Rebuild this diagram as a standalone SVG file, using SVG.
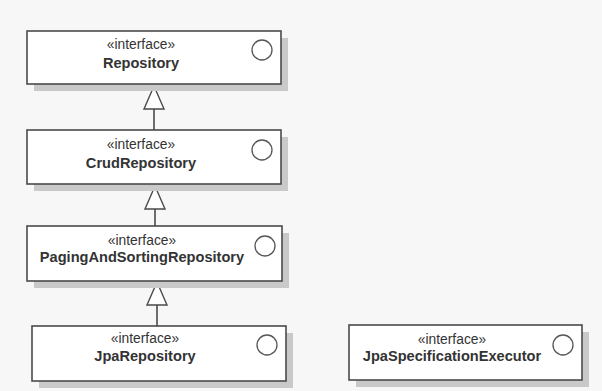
<svg xmlns="http://www.w3.org/2000/svg" width="602" height="391" viewBox="0 0 602 391">
<style>
.bg{fill:#f7f7f7}
.shadow{fill:#c9c9c9}
.box{fill:#ffffff;stroke:#4a4a4a;stroke-width:1.6}
.icon{fill:#ffffff;stroke:#555555;stroke-width:1.3}
.st{font-family:"Liberation Sans",Arial,sans-serif;font-size:13.8px;fill:#333333;text-anchor:middle}
.nm{font-family:"Liberation Sans",Arial,sans-serif;font-size:14.6px;font-weight:bold;fill:#333333;text-anchor:middle}
.edge{stroke:#4a4a4a;stroke-width:1.6;fill:none}
.head{fill:#ffffff;stroke:#4a4a4a;stroke-width:1.4}
</style>
<rect class="bg" x="0" y="0" width="602" height="391"/>
<g id="connectors">
<line class="edge" x1="154" y1="109" x2="154" y2="130"/>
<polygon class="head" points="154,86 144,109 164,109"/>
<line class="edge" x1="155" y1="209" x2="155" y2="226"/>
<polygon class="head" points="155,186 145,209 165,209"/>
<line class="edge" x1="157" y1="305" x2="157" y2="326"/>
<polygon class="head" points="157,282 147,305 167,305"/>
</g>
<g id="Repository">
<rect class="shadow" x="34" y="38" width="254" height="53"/>
<rect class="box" x="27" y="31" width="254" height="53"/>
<circle class="icon" cx="262" cy="50" r="10"/>
<text class="st" x="141" y="49">«interface»</text>
<text class="nm" x="141" y="68">Repository</text>
</g>
<g id="CrudRepository">
<rect class="shadow" x="34" y="137" width="254" height="54"/>
<rect class="box" x="27" y="130" width="254" height="54"/>
<circle class="icon" cx="262" cy="150" r="10"/>
<text class="st" x="141" y="149">«interface»</text>
<text class="nm" x="141" y="168">CrudRepository</text>
</g>
<g id="PagingAndSortingRepository">
<rect class="shadow" x="34" y="233" width="255" height="55"/>
<rect class="box" x="27" y="226" width="255" height="55"/>
<circle class="icon" cx="265" cy="246" r="10"/>
<text class="st" x="142" y="245">«interface»</text>
<text class="nm" x="142" y="262">PagingAndSortingRepository</text>
</g>
<g id="JpaRepository">
<rect class="shadow" x="39" y="333" width="254" height="55"/>
<rect class="box" x="32" y="326" width="254" height="55"/>
<circle class="icon" cx="267" cy="345" r="10"/>
<text class="st" x="145" y="343">«interface»</text>
<text class="nm" x="145" y="361">JpaRepository</text>
</g>
<g id="JpaSpecificationExecutor">
<rect class="shadow" x="356" y="332" width="233" height="55"/>
<rect class="box" x="349" y="325" width="233" height="55"/>
<circle class="icon" cx="563" cy="345" r="10"/>
<text class="st" x="452" y="344">«interface»</text>
<text class="nm" x="452" y="361">JpaSpecificationExecutor</text>
</g>
</svg>
